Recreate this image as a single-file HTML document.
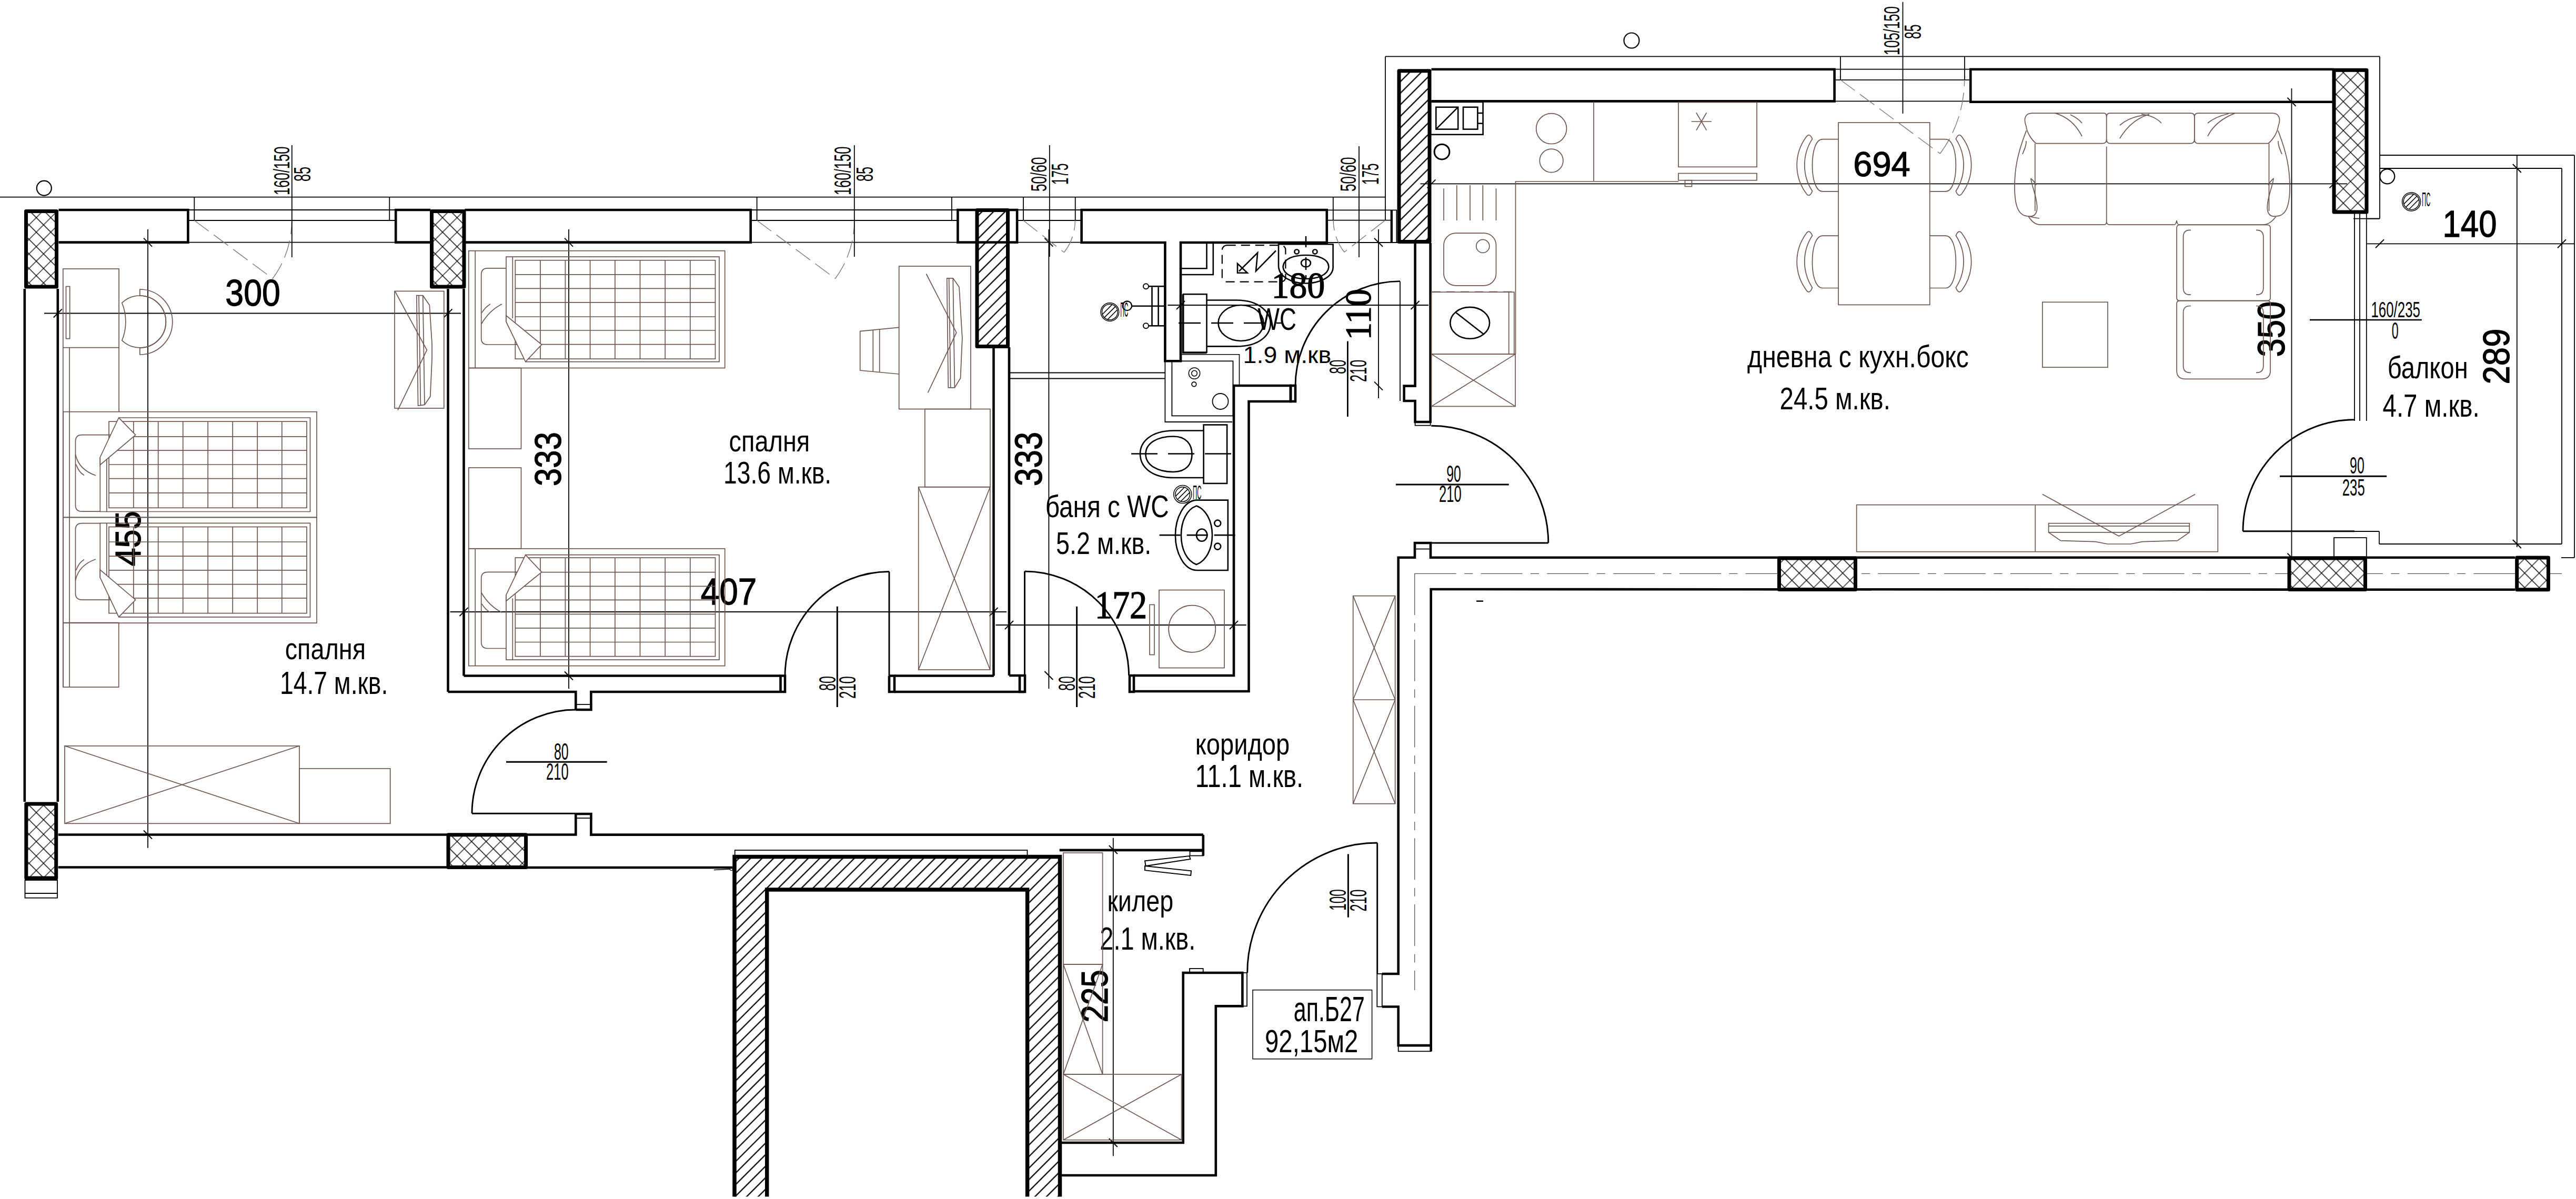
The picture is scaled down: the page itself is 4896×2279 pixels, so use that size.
<!DOCTYPE html>
<html><head><meta charset="utf-8"><style>
html,body{margin:0;padding:0;background:#fff;overflow:hidden}
svg{display:block}
text{font-family:"Liberation Sans",sans-serif}
text[font-family]{font-family:"Liberation Serif",serif}
</style></head><body>
<svg width="4896" height="2279" viewBox="0 0 4896 2279">
<defs>
<pattern id="xh" patternUnits="userSpaceOnUse" width="19.5" height="19.5" patternTransform="rotate(45)">
<path d="M9.75,0 V19.5 M0,9.75 H19.5" stroke="#000" stroke-width="1.25" fill="none"/>
</pattern>
<pattern id="dh" patternUnits="userSpaceOnUse" width="15.5" height="15.5" patternTransform="rotate(45)">
<path d="M7.75,0 V15.5" stroke="#000" stroke-width="2.3" fill="none"/>
</pattern>
</defs>
<rect width="4896" height="2279" fill="#fff"/>
<line x1="0" y1="374.6" x2="2633" y2="374.6" stroke="#000" stroke-width="1.8" />
<line x1="2633" y1="107.4" x2="4523" y2="107.4" stroke="#000" stroke-width="1.8" />
<line x1="2633" y1="107.4" x2="2633" y2="418" stroke="#000" stroke-width="1.8" />
<line x1="4523" y1="107.4" x2="4523" y2="415.6" stroke="#000" stroke-width="1.8" />
<line x1="4473" y1="415.6" x2="4523" y2="415.6" stroke="#000" stroke-width="1.8" />
<line x1="4523" y1="295" x2="4893" y2="295" stroke="#000" stroke-width="1.8" />
<line x1="4893" y1="295" x2="4893" y2="1060" stroke="#000" stroke-width="1.8" />
<line x1="4868" y1="1060" x2="4893" y2="1060" stroke="#000" stroke-width="1.8" />
<line x1="4523" y1="320" x2="4869" y2="320" stroke="#000" stroke-width="1.8" />
<line x1="4869" y1="320" x2="4869" y2="1034" stroke="#000" stroke-width="1.8" />
<line x1="4522" y1="1034" x2="4869" y2="1034" stroke="#000" stroke-width="1.8" />
<line x1="4522" y1="1010" x2="4522" y2="1034" stroke="#000" stroke-width="1.8" />
<line x1="4475" y1="1010" x2="4522" y2="1010" stroke="#000" stroke-width="1.8" />
<rect x="49.5" y="401.6" width="58.0" height="143.39999999999998" fill="#fff" stroke="none" stroke-width="0" />
<rect x="49.5" y="401.6" width="58.0" height="143.39999999999998" fill="url(#xh)" stroke="none" stroke-width="0" />
<rect x="49.5" y="401.6" width="58.0" height="143.39999999999998" fill="none" stroke="#000" stroke-width="7" stroke-linejoin="round"/>
<rect x="820.5" y="401.6" width="61.5" height="143.39999999999998" fill="#fff" stroke="none" stroke-width="0" />
<rect x="820.5" y="401.6" width="61.5" height="143.39999999999998" fill="url(#xh)" stroke="none" stroke-width="0" />
<rect x="820.5" y="401.6" width="61.5" height="143.39999999999998" fill="none" stroke="#000" stroke-width="7" stroke-linejoin="round"/>
<polyline points="111.5,399 357.4,399 357.4,460.6 111.5,460.6" fill="none" stroke="#000" stroke-width="4.6" stroke-linejoin="miter" />
<polyline points="818.3,399 752.2,399 752.2,460.6 818.3,460.6" fill="none" stroke="#000" stroke-width="4.6" stroke-linejoin="miter" />
<polyline points="883.4,399 1426.7,399 1426.7,460.6 883.4,460.6" fill="none" stroke="#000" stroke-width="4.6" stroke-linejoin="miter" />
<rect x="1820.4" y="399" width="112.69999999999982" height="61.60000000000002" fill="none" stroke="#000" stroke-width="4.6" />
<rect x="1857" y="399.5" width="58.5" height="259.0" fill="url(#dh)" stroke="none" stroke-width="0" />
<rect x="1857" y="399.5" width="58.5" height="259.0" fill="none" stroke="#000" stroke-width="7" stroke-linejoin="round"/>
<polygon points="2055.6,399 2521.8,399 2521.8,461 2244,461 2244,686.3 2214.4,686.3 2214.4,461 2055.6,461" fill="none" stroke="#000" stroke-width="4.6" stroke-linejoin="miter" />
<rect x="2643.6" y="399.4" width="10.800000000000182" height="61.60000000000002" fill="none" stroke="#000" stroke-width="1.8" />
<line x1="2645.5" y1="399.4" x2="2645.5" y2="461" stroke="#000" stroke-width="3" />
<line x1="357.4" y1="399" x2="752.2" y2="399" stroke="#000" stroke-width="1.8" />
<line x1="357.4" y1="419" x2="752.2" y2="419" stroke="#000" stroke-width="1.8" />
<line x1="357.4" y1="460.6" x2="752.2" y2="460.6" stroke="#000" stroke-width="1.8" />
<line x1="369.3" y1="374.6" x2="369.3" y2="419" stroke="#000" stroke-width="1.8" />
<line x1="740.3" y1="374.6" x2="740.3" y2="419" stroke="#000" stroke-width="1.8" />
<line x1="1426.7" y1="399" x2="1820.4" y2="399" stroke="#000" stroke-width="1.8" />
<line x1="1426.7" y1="419" x2="1820.4" y2="419" stroke="#000" stroke-width="1.8" />
<line x1="1426.7" y1="460.6" x2="1820.4" y2="460.6" stroke="#000" stroke-width="1.8" />
<line x1="1438.6" y1="374.6" x2="1438.6" y2="419" stroke="#000" stroke-width="1.8" />
<line x1="1808.9" y1="374.6" x2="1808.9" y2="419" stroke="#000" stroke-width="1.8" />
<line x1="1933.1" y1="399" x2="2055.6" y2="399" stroke="#000" stroke-width="1.8" />
<line x1="1933.1" y1="419" x2="2055.6" y2="419" stroke="#000" stroke-width="1.8" />
<line x1="1933.1" y1="460.6" x2="2055.6" y2="460.6" stroke="#000" stroke-width="1.8" />
<line x1="1945" y1="374.6" x2="1945" y2="419" stroke="#000" stroke-width="1.8" />
<line x1="2043.7" y1="374.6" x2="2043.7" y2="419" stroke="#000" stroke-width="1.8" />
<line x1="2522" y1="399.4" x2="2643" y2="399.4" stroke="#000" stroke-width="1.8" />
<line x1="2522" y1="418.7" x2="2643" y2="418.7" stroke="#000" stroke-width="1.8" />
<line x1="2522" y1="461" x2="2656" y2="461" stroke="#000" stroke-width="1.8" />
<line x1="2533.8" y1="374.6" x2="2533.8" y2="418.7" stroke="#000" stroke-width="1.8" />
<line x1="46.8" y1="549" x2="46.8" y2="1524" stroke="#000" stroke-width="4.6" />
<line x1="109.8" y1="549" x2="109.8" y2="1524" stroke="#000" stroke-width="4.6" />
<rect x="49.8" y="1528" width="56.900000000000006" height="141" fill="#fff" stroke="none" stroke-width="0" />
<rect x="49.8" y="1528" width="56.900000000000006" height="141" fill="url(#xh)" stroke="none" stroke-width="0" />
<rect x="49.8" y="1528" width="56.900000000000006" height="141" fill="none" stroke="#000" stroke-width="7" stroke-linejoin="round"/>
<rect x="47.5" y="1673" width="61.5" height="33.700000000000045" fill="none" stroke="#000" stroke-width="1.8" />
<line x1="47.5" y1="1698" x2="109" y2="1698" stroke="#000" stroke-width="1.8" />
<line x1="110.7" y1="1586.5" x2="849.5" y2="1586.5" stroke="#000" stroke-width="4.6" />
<line x1="110.7" y1="1648.5" x2="849.5" y2="1648.5" stroke="#000" stroke-width="4.6" />
<rect x="852" y="1586.7" width="147.60000000000002" height="61.899999999999864" fill="#fff" stroke="none" stroke-width="0" />
<rect x="852" y="1586.7" width="147.60000000000002" height="61.899999999999864" fill="url(#xh)" stroke="none" stroke-width="0" />
<rect x="852" y="1586.7" width="147.60000000000002" height="61.899999999999864" fill="none" stroke="#000" stroke-width="7" stroke-linejoin="round"/>
<polyline points="1000.4,1586.5 1094.3,1586.5 1094.3,1547" fill="none" stroke="#000" stroke-width="4.6" stroke-linejoin="miter" />
<line x1="1000.4" y1="1649" x2="1392.5" y2="1649" stroke="#000" stroke-width="4.6" />
<polyline points="1094.3,1547 1123.4,1547 1123.4,1586.6 2287,1586.6" fill="none" stroke="#000" stroke-width="4.6" stroke-linejoin="miter" />
<line x1="1094.3" y1="1555" x2="1123.4" y2="1555" stroke="#000" stroke-width="1.8" />
<line x1="851.5" y1="549" x2="851.5" y2="1315" stroke="#000" stroke-width="4.6" />
<line x1="881.5" y1="549" x2="881.5" y2="1284.5" stroke="#000" stroke-width="4.6" />
<line x1="881.5" y1="1284.5" x2="1483.5" y2="1284.5" stroke="#000" stroke-width="4.6" />
<polyline points="851.5,1315 1094.3,1315 1094.3,1349" fill="none" stroke="#000" stroke-width="4.6" stroke-linejoin="miter" />
<polyline points="1094.3,1349 1123.4,1349 1123.4,1315 1492,1315 1492,1284.5 1483.5,1284.5 1483.5,1315" fill="none" stroke="#000" stroke-width="4.6" stroke-linejoin="miter" />
<line x1="1094.3" y1="1339" x2="1123.4" y2="1339" stroke="#000" stroke-width="1.8" />
<polyline points="1690,1284.5 1700,1284.5 1700,1315 1690,1315 1690,1284.5" fill="none" stroke="#000" stroke-width="4.6" stroke-linejoin="miter" />
<line x1="1700" y1="1284.5" x2="1889" y2="1284.5" stroke="#000" stroke-width="4.6" />
<line x1="1700" y1="1315" x2="1948" y2="1315" stroke="#000" stroke-width="4.6" />
<line x1="1888.5" y1="660" x2="1888.5" y2="1284.5" stroke="#000" stroke-width="4.6" />
<line x1="1918" y1="660" x2="1918" y2="1284" stroke="#000" stroke-width="4.6" />
<polyline points="1918,1284 1948,1284 1948,1315 1938,1315 1938,1284" fill="none" stroke="#000" stroke-width="4.6" stroke-linejoin="miter" />
<line x1="1919.5" y1="708.5" x2="2214.5" y2="708.5" stroke="#000" stroke-width="1.8" />
<line x1="1919.5" y1="719.5" x2="2214.5" y2="719.5" stroke="#000" stroke-width="1.8" />
<polyline points="2147,1284 2155,1284 2155,1315 2147,1315 2147,1284" fill="none" stroke="#000" stroke-width="4.6" stroke-linejoin="miter" />
<polyline points="2155,1284 2345,1284 2345,733 2453,733 2453,763 2373.5,763 2373.5,1314 2155,1314" fill="none" stroke="#000" stroke-width="4.6" stroke-linejoin="miter" />
<rect x="2453" y="733" width="9" height="30" fill="none" stroke="#000" stroke-width="4.6" />
<polyline points="2214.4,686.3 2214.4,802 2342,802" fill="none" stroke="#000" stroke-width="1.8" stroke-linejoin="miter" />
<rect x="2227.4" y="686.3" width="116.09999999999991" height="104.10000000000002" fill="none" stroke="#000" stroke-width="1.8" />
<rect x="2659" y="134.8" width="58" height="324.7" fill="url(#dh)" stroke="none" stroke-width="0" />
<rect x="2659" y="134.8" width="58" height="324.7" fill="none" stroke="#000" stroke-width="7" stroke-linejoin="round"/>
<polyline points="2689.6,462 2689.6,733.6 2668.6,733.6 2668.6,762 2689.6,762 2689.6,802 2718.6,802 2718.6,462" fill="none" stroke="#000" stroke-width="4.6" stroke-linejoin="miter" />
<rect x="2689.6" y="802" width="29.0" height="6.7000000000000455" fill="none" stroke="#000" stroke-width="1.8" />
<line x1="2661" y1="535" x2="2661" y2="762" stroke="#000" stroke-width="1.8" />
<polyline points="2720.5,131.7 3486.6,131.7 3486.6,192.4 2720.5,192.4" fill="none" stroke="#000" stroke-width="4.6" stroke-linejoin="miter" />
<polyline points="4435.5,131.7 3745.3,131.7 3745.3,193.8 4435.5,193.8" fill="none" stroke="#000" stroke-width="4.6" stroke-linejoin="miter" />
<rect x="4436" y="133.3" width="62" height="269.7" fill="#fff" stroke="none" stroke-width="0" />
<rect x="4436" y="133.3" width="62" height="269.7" fill="url(#xh)" stroke="none" stroke-width="0" />
<rect x="4436" y="133.3" width="62" height="269.7" fill="none" stroke="#000" stroke-width="7" stroke-linejoin="round"/>
<line x1="3486.6" y1="131.7" x2="3745.3" y2="131.7" stroke="#000" stroke-width="1.8" />
<line x1="3486.6" y1="151.8" x2="3745.3" y2="151.8" stroke="#000" stroke-width="1.8" />
<line x1="3486.6" y1="192.4" x2="3745.3" y2="192.4" stroke="#000" stroke-width="1.8" />
<line x1="3498" y1="107.4" x2="3498" y2="151.8" stroke="#000" stroke-width="1.8" />
<line x1="3734" y1="107.4" x2="3734" y2="151.8" stroke="#000" stroke-width="1.8" />
<line x1="4475" y1="405" x2="4475" y2="800" stroke="#000" stroke-width="1.8" />
<line x1="4485" y1="405" x2="4485" y2="800" stroke="#000" stroke-width="1.8" />
<line x1="4497.8" y1="405" x2="4497.8" y2="800" stroke="#000" stroke-width="1.8" />
<line x1="4499" y1="415.6" x2="4522" y2="415.6" stroke="#000" stroke-width="1.8" />
<rect x="4436" y="1022" width="61.80000000000018" height="36.59999999999991" fill="none" stroke="#000" stroke-width="1.8" />
<polyline points="2626.8,1851 2657.7,1851 2657.7,1059.8 2689,1059.8 2689,1032 2719,1032 2719,1059.8 4780,1059.8" fill="none" stroke="#000" stroke-width="4.6" stroke-linejoin="miter" />
<line x1="2689" y1="1043.5" x2="2719" y2="1043.5" stroke="#000" stroke-width="1.8" />
<polyline points="2719.7,1998.3 2719.7,1120 4780,1120.8" fill="none" stroke="#000" stroke-width="4.6" stroke-linejoin="miter" />
<line x1="2688.7" y1="1090" x2="2688.7" y2="1882" stroke="#555" stroke-width="1.3" stroke-dasharray="79,15.5,16,15.3"/>
<line x1="2688.7" y1="1090.4" x2="4869" y2="1090.4" stroke="#555" stroke-width="1.3" stroke-dasharray="79,15.5,16,15.3"/>
<line x1="2013.7" y1="1615.9" x2="2286.8" y2="1615.9" stroke="#000" stroke-width="4.6" />
<line x1="2286.8" y1="1586.8" x2="2286.8" y2="1626.5" stroke="#000" stroke-width="4.6" />
<rect x="2261.5" y="1618.3" width="25.300000000000182" height="8.200000000000045" fill="none" stroke="#000" stroke-width="1.8" />
<polygon points="2176,1636.3 2260.7,1627 2262.4,1633 2177.6,1646" fill="none" stroke="#000" stroke-width="2" stroke-linejoin="miter" />
<polygon points="2176,1646 2264,1655.3 2263.2,1664 2176,1654.2" fill="none" stroke="#000" stroke-width="2" stroke-linejoin="miter" />
<line x1="1357" y1="1653.5" x2="1388" y2="1652" stroke="#000" stroke-width="1.3" />
<circle cx="1390" cy="1652" r="2.5" fill="none" stroke="#000" stroke-width="1.2" />
<path d="M1396,2274.5 V1628.5 H2014.5 V2274.5 H1952.6 V1691 H1457.7 V2274.5 Z" fill="url(#dh)" stroke="none"/>
<polyline points="1396,2274.5 1396,1628.5 2014.5,1628.5 2014.5,2274.5" fill="none" stroke="#000" stroke-width="7.5" stroke-linejoin="miter" />
<polyline points="1457.7,2274.5 1457.7,1691 1952.6,1691 1952.6,2274.5" fill="none" stroke="#000" stroke-width="7.5" stroke-linejoin="miter" />
<rect x="1396.7" y="1616" width="555.8" height="11.5" fill="none" stroke="#000" stroke-width="1.8" />
<polyline points="2015.8,2172 2248.7,2172 2248.7,1849 2361.4,1849 2361.4,1912.4 2310.8,1912.4 2310.8,2234 2015.8,2234" fill="none" stroke="#000" stroke-width="4.6" stroke-linejoin="miter" />
<rect x="2361.4" y="1849" width="8.599999999999909" height="63.40000000000009" fill="none" stroke="#000" stroke-width="1.8" />
<rect x="2261" y="1841" width="25.699999999999818" height="8" fill="none" stroke="#000" stroke-width="1.8" />
<line x1="2617.7" y1="1602.3" x2="2617.7" y2="1851" stroke="#000" stroke-width="2.9" />
<rect x="2617.3" y="1851" width="9.5" height="62.5" fill="none" stroke="#000" stroke-width="1.8" />
<polyline points="2626.8,1913.5 2657.7,1913.5 2657.7,1987.1 2719.7,1987.1" fill="none" stroke="#000" stroke-width="4.6" stroke-linejoin="miter" />
<rect x="2657.7" y="1987.1" width="62.0" height="11.200000000000045" fill="none" stroke="#000" stroke-width="1.8" />
<rect x="3381.5" y="1061" width="145.0" height="59.5" fill="#fff" stroke="none" stroke-width="0" />
<rect x="3381.5" y="1061" width="145.0" height="59.5" fill="url(#xh)" stroke="none" stroke-width="0" />
<rect x="3381.5" y="1061" width="145.0" height="59.5" fill="none" stroke="#000" stroke-width="7" stroke-linejoin="round"/>
<rect x="4351" y="1061" width="144.5" height="59.5" fill="#fff" stroke="none" stroke-width="0" />
<rect x="4351" y="1061" width="144.5" height="59.5" fill="url(#xh)" stroke="none" stroke-width="0" />
<rect x="4351" y="1061" width="144.5" height="59.5" fill="none" stroke="#000" stroke-width="7" stroke-linejoin="round"/>
<rect x="4783.7" y="1060" width="59.69999999999982" height="60.799999999999955" fill="#fff" stroke="none" stroke-width="0" />
<rect x="4783.7" y="1060" width="59.69999999999982" height="60.799999999999955" fill="url(#xh)" stroke="none" stroke-width="0" />
<rect x="4783.7" y="1060" width="59.69999999999982" height="60.799999999999955" fill="none" stroke="#000" stroke-width="7" stroke-linejoin="round"/>
<path d="M1094.3,1349 A197.3,197.3 0 0 0 897,1546.3" fill="none" stroke="#000" stroke-width="2.9" />
<line x1="897" y1="1546.3" x2="1094.3" y2="1546.3" stroke="#000" stroke-width="2.9" />
<path d="M1690,1086.5 A198,198 0 0 0 1492,1284.5" fill="none" stroke="#000" stroke-width="2.9" />
<line x1="1690" y1="1086.5" x2="1690" y2="1284.5" stroke="#000" stroke-width="2.9" />
<path d="M1947.5,1086 A198,198 0 0 1 2145.5,1284" fill="none" stroke="#000" stroke-width="2.9" />
<line x1="1947.5" y1="1086" x2="1947.5" y2="1284" stroke="#000" stroke-width="2.9" />
<path d="M2661,534.6 A199,199 0 0 0 2462,733.6" fill="none" stroke="#000" stroke-width="2.9" />
<path d="M2720.3,809.3 A222.5,222.5 0 0 1 2942.8,1031.8" fill="none" stroke="#000" stroke-width="2.9" />
<line x1="2720.3" y1="1032" x2="2942.8" y2="1032" stroke="#000" stroke-width="2.9" />
<path d="M4475,797.8 A212,212 0 0 0 4263,1009.8" fill="none" stroke="#000" stroke-width="2.9" />
<line x1="4263" y1="1009.8" x2="4475" y2="1009.8" stroke="#000" stroke-width="2.9" />
<path d="M2617.7,1602 A247,247 0 0 0 2370.7,1849" fill="none" stroke="#000" stroke-width="2.9" />
<line x1="369.3" y1="419" x2="518.2" y2="529.5" stroke="#7a7a7a" stroke-width="1.4" stroke-dasharray="34,12"/>
<path d="M518.2,529.5 A185.3,185.3 0 0 0 554.6,419" fill="none" stroke="#7a7a7a" stroke-width="1.4" stroke-dasharray="34,12"/>
<line x1="1438.6" y1="419" x2="1587.5" y2="529.5" stroke="#7a7a7a" stroke-width="1.4" stroke-dasharray="34,12"/>
<path d="M1587.5,529.5 A185.3,185.3 0 0 0 1623.9,419" fill="none" stroke="#7a7a7a" stroke-width="1.4" stroke-dasharray="34,12"/>
<line x1="1945" y1="419" x2="2022.5" y2="479.7" stroke="#7a7a7a" stroke-width="1.4" stroke-dasharray="34,12"/>
<path d="M2022.5,479.7 A98.4,98.4 0 0 0 2043.4,419" fill="none" stroke="#7a7a7a" stroke-width="1.4" stroke-dasharray="34,12"/>
<line x1="2632.7" y1="418.7" x2="2555" y2="479.3" stroke="#7a7a7a" stroke-width="1.4" stroke-dasharray="34,12"/>
<path d="M2555,479.3 A98.5,98.5 0 0 1 2534.2,418.7" fill="none" stroke="#7a7a7a" stroke-width="1.4" stroke-dasharray="34,12"/>
<line x1="3498" y1="151.8" x2="3687.4" y2="292" stroke="#7a7a7a" stroke-width="1.4" stroke-dasharray="34,12"/>
<path d="M3687.4,292 A235.6,235.6 0 0 0 3733.6,151.8" fill="none" stroke="#7a7a7a" stroke-width="1.4" stroke-dasharray="34,12"/>
<line x1="84" y1="595.5" x2="876" y2="595.5" stroke="#000" stroke-width="1.8" />
<line x1="101.8" y1="603.5" x2="117.8" y2="587.5" stroke="#000" stroke-width="2" />
<line x1="843.5" y1="603.5" x2="859.5" y2="587.5" stroke="#000" stroke-width="2" />
<line x1="281" y1="436" x2="281" y2="1611.7" stroke="#000" stroke-width="1.8" />
<line x1="273" y1="452.6" x2="289" y2="468.6" stroke="#000" stroke-width="2" />
<line x1="273" y1="1578.5" x2="289" y2="1594.5" stroke="#000" stroke-width="2" />
<line x1="1081" y1="436" x2="1081" y2="1309" stroke="#000" stroke-width="1.8" />
<line x1="1073" y1="452.6" x2="1089" y2="468.6" stroke="#000" stroke-width="2" />
<line x1="1073" y1="1276.5" x2="1089" y2="1292.5" stroke="#000" stroke-width="2" />
<line x1="855.5" y1="1163" x2="1913" y2="1163" stroke="#000" stroke-width="1.8" />
<line x1="873.5" y1="1171" x2="889.5" y2="1155" stroke="#000" stroke-width="2" />
<line x1="1880.5" y1="1171" x2="1896.5" y2="1155" stroke="#000" stroke-width="2" />
<line x1="1993.4" y1="436" x2="1993.4" y2="1309" stroke="#000" stroke-width="1.8" />
<line x1="1985.4" y1="452.6" x2="2001.4" y2="468.6" stroke="#000" stroke-width="2" />
<line x1="1985.4" y1="1276" x2="2001.4" y2="1292" stroke="#000" stroke-width="2" />
<line x1="1892.5" y1="1188" x2="2368.7" y2="1188" stroke="#000" stroke-width="1.8" />
<line x1="1910" y1="1196" x2="1926" y2="1180" stroke="#000" stroke-width="2" />
<line x1="2337" y1="1196" x2="2353" y2="1180" stroke="#000" stroke-width="2" />
<line x1="2219.4" y1="580" x2="2715" y2="580" stroke="#000" stroke-width="1.8" />
<line x1="2236" y1="588" x2="2252" y2="572" stroke="#000" stroke-width="2" />
<line x1="2681.6" y1="588" x2="2697.6" y2="572" stroke="#000" stroke-width="2" />
<line x1="2620" y1="436" x2="2620" y2="757" stroke="#000" stroke-width="1.8" />
<line x1="2612" y1="452.7" x2="2628" y2="468.7" stroke="#000" stroke-width="2" />
<line x1="2612" y1="725.6" x2="2628" y2="741.6" stroke="#000" stroke-width="2" />
<line x1="2699.5" y1="349.4" x2="4461" y2="349.4" stroke="#000" stroke-width="1.8" />
<line x1="2712.5" y1="357.4" x2="2728.5" y2="341.4" stroke="#000" stroke-width="2" />
<line x1="4427.5" y1="357.4" x2="4443.5" y2="341.4" stroke="#000" stroke-width="2" />
<line x1="4355.5" y1="168" x2="4355.5" y2="1060" stroke="#000" stroke-width="1.8" />
<line x1="4347.5" y1="185.8" x2="4363.5" y2="201.8" stroke="#000" stroke-width="2" />
<line x1="4347.5" y1="1051.8" x2="4363.5" y2="1067.8" stroke="#000" stroke-width="2" />
<line x1="4498.6" y1="463.3" x2="4893" y2="463.3" stroke="#000" stroke-width="1.8" />
<line x1="4515" y1="471.3" x2="4531" y2="455.3" stroke="#000" stroke-width="2" />
<line x1="4861" y1="471.3" x2="4877" y2="455.3" stroke="#000" stroke-width="2" />
<line x1="4783.8" y1="295" x2="4783.8" y2="1040" stroke="#000" stroke-width="1.8" />
<line x1="4775.8" y1="312" x2="4791.8" y2="328" stroke="#000" stroke-width="2" />
<line x1="4775.8" y1="1026" x2="4791.8" y2="1042" stroke="#000" stroke-width="2" />
<line x1="2115.8" y1="1592.8" x2="2115.8" y2="2197.2" stroke="#000" stroke-width="1.8" />
<line x1="2107.8" y1="1607" x2="2123.8" y2="1623" stroke="#000" stroke-width="2" />
<line x1="2107.8" y1="2164" x2="2123.8" y2="2180" stroke="#000" stroke-width="2" />
<line x1="962" y1="1448.3" x2="1153.7" y2="1448.3" stroke="#000" stroke-width="3" />
<line x1="1591.3" y1="1152.8" x2="1591.3" y2="1344" stroke="#000" stroke-width="3" />
<line x1="2046.6" y1="1152.8" x2="2046.6" y2="1344" stroke="#000" stroke-width="3" />
<line x1="2561.4" y1="648.5" x2="2561.4" y2="792" stroke="#000" stroke-width="2.8" />
<line x1="2652.9" y1="921" x2="2867.8" y2="921" stroke="#000" stroke-width="3" />
<line x1="4333" y1="905.2" x2="4536.2" y2="905.2" stroke="#000" stroke-width="3" />
<line x1="4390" y1="608" x2="4602.9" y2="608" stroke="#000" stroke-width="2.6" />
<line x1="2562.4" y1="1623.4" x2="2562.4" y2="1743.7" stroke="#000" stroke-width="3" />
<line x1="554.8" y1="276" x2="554.8" y2="489" stroke="#000" stroke-width="1.8" />
<line x1="1623.8" y1="276" x2="1623.8" y2="488" stroke="#000" stroke-width="1.8" />
<line x1="1994.8" y1="276" x2="1994.8" y2="488" stroke="#000" stroke-width="1.8" />
<line x1="2583" y1="278" x2="2583" y2="489" stroke="#000" stroke-width="1.8" />
<line x1="3616.5" y1="3.7" x2="3616.5" y2="215.8" stroke="#000" stroke-width="1.8" />
<circle cx="83.8" cy="357.6" r="14" fill="none" stroke="#000" stroke-width="2.2" />
<circle cx="3101" cy="77" r="14.5" fill="none" stroke="#000" stroke-width="2.2" />
<circle cx="4537.3" cy="335.3" r="14" fill="none" stroke="#000" stroke-width="2.2" />
<circle cx="2740.6" cy="288.7" r="14" fill="none" stroke="#000" stroke-width="2.2" />
<circle cx="4583.1" cy="383.4" r="17.5" fill="none" stroke="#000" stroke-width="1.5" />
<circle cx="4583.1" cy="383.4" r="15" fill="none" stroke="#000" stroke-width="1.5" />
<line x1="4568.769421012048" y1="387.831084051341" x2="4587.531084051341" y2="369.0694210120473" stroke="#000" stroke-width="1.6" />
<line x1="4572.493398282202" y1="394.00660171779816" x2="4593.706601717799" y2="372.7933982822018" stroke="#000" stroke-width="1.6" />
<line x1="4578.66891594866" y1="397.73057898795264" x2="4597.430578987953" y2="378.96891594865895" stroke="#000" stroke-width="1.6" />
<rect x="2381" y="1881.7" width="226.5999999999999" height="131.0999999999999" fill="none" stroke="#000" stroke-width="1.5" />
<text transform="translate(428.30,581.40) scale(0.06265,0.07006)" font-size="1000" fill="#000" stroke="#000" stroke-width="18.1" >300</text>
<text transform="translate(267.02,1076.60) rotate(-90) scale(0.06331,0.06848)" font-size="1000" fill="#000" stroke="#000" stroke-width="18.2" >455</text>
<text transform="translate(1066.10,923.90) rotate(-90) scale(0.06163,0.07006)" font-size="1000" fill="#000" stroke="#000" stroke-width="18.2" >333</text>
<text transform="translate(1385.50,858.43) scale(0.04696,0.05657)" font-size="1000" fill="#000" >спалня</text>
<text transform="translate(1375.00,918.51) scale(0.04626,0.05932)" font-size="1000" fill="#000" >13.6 м.кв.</text>
<text transform="translate(1331.70,1149.40) scale(0.06385,0.06963)" font-size="1000" fill="#000" stroke="#000" stroke-width="18.0" >407</text>
<text transform="translate(541.70,1252.53) scale(0.04684,0.05730)" font-size="1000" fill="#000" >спалня</text>
<text transform="translate(531.90,1318.70) scale(0.04630,0.06061)" font-size="1000" fill="#000" >14.7 м.кв.</text>
<text transform="translate(1980.28,923.90) rotate(-90) scale(0.06169,0.07189)" font-size="1000" fill="#000" stroke="#000" stroke-width="18.0" >333</text>
<text transform="translate(1986.70,983.11) scale(0.04777,0.05882)" font-size="1000" fill="#000" >баня с WC</text>
<text transform="translate(2007.10,1053.01) scale(0.04668,0.05890)" font-size="1000" fill="#000" >5.2 м.кв.</text>
<text transform="translate(2080.75,1175.05) scale(0.06627,0.07296)" font-size="1000" fill="#000" stroke="#000" stroke-width="18.7"  font-family="Liberation Serif">172</text>
<text transform="translate(2416.45,566.04) scale(0.06793,0.07067)" font-size="1000" fill="#000" stroke="#000" stroke-width="18.8"  font-family="Liberation Serif">180</text>
<text transform="translate(2604.54,646.35) rotate(-90) scale(0.06651,0.07052)" font-size="1000" fill="#000" stroke="#000" stroke-width="19.0"  font-family="Liberation Serif">110</text>
<text transform="translate(3522.20,334.72) scale(0.06511,0.06751)" font-size="1000" fill="#000" stroke="#000" stroke-width="18.1" >694</text>
<text transform="translate(3321.10,698.48) scale(0.04814,0.05877)" font-size="1000" fill="#000" >дневна с кухн.бокс</text>
<text transform="translate(3382.50,778.31) scale(0.04743,0.05904)" font-size="1000" fill="#000" >24.5 м.кв.</text>
<text transform="translate(4341.68,678.40) rotate(-90) scale(0.06343,0.07203)" font-size="1000" fill="#000" stroke="#000" stroke-width="17.7" >350</text>
<text transform="translate(4642.60,449.70) scale(0.06163,0.06963)" font-size="1000" fill="#000" stroke="#000" stroke-width="18.3" >140</text>
<text transform="translate(4768.70,730.40) rotate(-90) scale(0.06343,0.07034)" font-size="1000" fill="#000" stroke="#000" stroke-width="17.9" >289</text>
<text transform="translate(4506.50,602.57) scale(0.02586,0.04327)" font-size="1000" fill="#000" >160/235</text>
<text transform="translate(4545.80,644.16) scale(0.02320,0.04421)" font-size="1000" fill="#000" >0</text>
<text transform="translate(4537.80,719.21) scale(0.04709,0.05895)" font-size="1000" fill="#000" >балкон</text>
<text transform="translate(4528.50,792.00) scale(0.04745,0.06134)" font-size="1000" fill="#000" >4.7 м.кв.</text>
<text transform="translate(4466.10,900.26) scale(0.02491,0.04435)" font-size="1000" fill="#000" >90</text>
<text transform="translate(4451.80,942.06) scale(0.02572,0.04435)" font-size="1000" fill="#000" >235</text>
<text transform="translate(2749.20,916.16) scale(0.02482,0.04449)" font-size="1000" fill="#000" >90</text>
<text transform="translate(2735.00,954.35) scale(0.02560,0.04477)" font-size="1000" fill="#000" >210</text>
<text transform="translate(1052.90,1444.16) scale(0.02500,0.04435)" font-size="1000" fill="#000" >80</text>
<text transform="translate(1038.00,1482.35) scale(0.02560,0.04477)" font-size="1000" fill="#000" >210</text>
<text transform="translate(2271.70,1433.67) scale(0.04705,0.05737)" font-size="1000" fill="#000" >коридор</text>
<text transform="translate(2271.70,1496.00) scale(0.04709,0.06061)" font-size="1000" fill="#000" >11.1 м.кв.</text>
<text transform="translate(2104.40,1731.74) scale(0.04673,0.05751)" font-size="1000" fill="#000" >килер</text>
<text transform="translate(2090.30,1804.90) scale(0.04693,0.06017)" font-size="1000" fill="#000" >2.1 м.кв.</text>
<text transform="translate(2105.00,1943.40) rotate(-90) scale(0.05995,0.06977)" font-size="1000" fill="#000" stroke="#000" stroke-width="18.5" >225</text>
<text transform="translate(2458.80,1941.44) scale(0.04294,0.06638)" font-size="1000" fill="#000" >ап.Б27</text>
<text transform="translate(2404.00,1999.63) scale(0.04738,0.06150)" font-size="1000" fill="#000" >92,15м2</text>
<text transform="translate(549.67,371.10) rotate(-90) scale(0.02564,0.04340)" font-size="1000" fill="#000" >160/150</text>
<text transform="translate(590.06,345.10) rotate(-90) scale(0.02536,0.04435)" font-size="1000" fill="#000" >85</text>
<text transform="translate(1617.26,371.10) rotate(-90) scale(0.02564,0.04354)" font-size="1000" fill="#000" >160/150</text>
<text transform="translate(1659.36,345.10) rotate(-90) scale(0.02536,0.04421)" font-size="1000" fill="#000" >85</text>
<text transform="translate(1988.57,364.10) rotate(-90) scale(0.02622,0.04327)" font-size="1000" fill="#000" >50/60</text>
<text transform="translate(2030.45,350.90) rotate(-90) scale(0.02422,0.04484)" font-size="1000" fill="#000" >175</text>
<text transform="translate(2577.37,364.10) rotate(-90) scale(0.02622,0.04299)" font-size="1000" fill="#000" >50/60</text>
<text transform="translate(2619.65,350.90) rotate(-90) scale(0.02422,0.04513)" font-size="1000" fill="#000" >175</text>
<text transform="translate(3610.47,105.10) rotate(-90) scale(0.02575,0.04272)" font-size="1000" fill="#000" >105/150</text>
<text transform="translate(3651.16,74.10) rotate(-90) scale(0.02482,0.04379)" font-size="1000" fill="#000" >85</text>
<text transform="translate(1588.35,1312.90) rotate(-90) scale(0.02491,0.04463)" font-size="1000" fill="#000" >80</text>
<text transform="translate(1626.45,1327.90) rotate(-90) scale(0.02560,0.04520)" font-size="1000" fill="#000" >210</text>
<text transform="translate(2043.45,1312.90) rotate(-90) scale(0.02491,0.04477)" font-size="1000" fill="#000" >80</text>
<text transform="translate(2081.45,1327.90) rotate(-90) scale(0.02560,0.04506)" font-size="1000" fill="#000" >210</text>
<text transform="translate(2558.26,710.80) rotate(-90) scale(0.02437,0.04435)" font-size="1000" fill="#000" >80</text>
<text transform="translate(2596.55,726.00) rotate(-90) scale(0.02536,0.04492)" font-size="1000" fill="#000" >210</text>
<text transform="translate(2558.16,1730.80) rotate(-90) scale(0.02428,0.04449)" font-size="1000" fill="#000" >100</text>
<text transform="translate(2597.36,1732.60) rotate(-90) scale(0.02536,0.04421)" font-size="1000" fill="#000" >210</text>
<text transform="translate(2390.20,627.11) scale(0.04418,0.05918)" font-size="1000" fill="#000" >WC</text>
<text transform="translate(2362.60,689.76) scale(0.04653,0.04364)" font-size="1000" fill="#000" >1.9 м.кв</text>
<text transform="translate(2129.30,601.92) scale(0.01048,0.03799)" font-size="1000" fill="#000" >ПС</text>
<text transform="translate(2267.00,948.83) scale(0.01138,0.03701)" font-size="1000" fill="#000" >ПС</text>
<text transform="translate(4603.10,392.23) scale(0.01124,0.03658)" font-size="1000" fill="#000" >ПС</text>
<rect x="119.8" y="511" width="106.3" height="149.70000000000005" fill="none" stroke="#6f5651" stroke-width="1.7" />
<rect x="125.5" y="544.5" width="7.099999999999994" height="99.20000000000005" fill="none" stroke="#6f5651" stroke-width="1.7" />
<line x1="132" y1="660.7" x2="132" y2="1306" stroke="#6f5651" stroke-width="1.7" />
<line x1="226.1" y1="660.7" x2="226.1" y2="782.7" stroke="#6f5651" stroke-width="1.7" />
<line x1="119.8" y1="660.7" x2="119.8" y2="1306" stroke="#6f5651" stroke-width="1.7" />
<path d="M265.8,550 V562.2 A49.5,49.5 0 0 1 265.8,661.2 V674 A62,62 0 0 0 265.8,550 Z" fill="none" stroke="#6f5651" stroke-width="1.7" />
<path d="M231.8,575.7 A49.4,49.4 0 1 1 231.8,647.1 A93.5,93.5 0 0 0 231.8,575.7 Z" fill="none" stroke="#6f5651" stroke-width="1.7" />
<g>
<rect x="120" y="782.7" width="482" height="200.69999999999993" fill="none" stroke="#6f5651" stroke-width="1.7" />
<path d="M226,826.7 H156 Q143.4,826.7 143.4,839 V960 Q143.4,972.2 156,972.2 H190.3" fill="none" stroke="#6f5651" stroke-width="1.7" />
<path d="M143.4,863.8 Q150,893 182,903.8" fill="none" stroke="#6f5651" stroke-width="1.7" />
<path d="M144.4,882.6 Q150,898 160,903.4" fill="none" stroke="#6f5651" stroke-width="1.7" />
<polyline points="190.3,869 190.3,972.5 589.5,972.5 589.5,794 225.7,794" fill="none" stroke="#6f5651" stroke-width="1.7" stroke-linejoin="miter" />
<line x1="202.8" y1="872" x2="202.8" y2="972.5" stroke="#6f5651" stroke-width="1.7" />
<rect x="207" y="801.2" width="376" height="164.0999999999999" fill="none" stroke="#6f5651" stroke-width="1.7" />
<line x1="253.8" y1="801.2" x2="253.8" y2="965.3" stroke="#6f5651" stroke-width="1.7" />
<line x1="300.7" y1="801.2" x2="300.7" y2="965.3" stroke="#6f5651" stroke-width="1.7" />
<line x1="347.7" y1="801.2" x2="347.7" y2="965.3" stroke="#6f5651" stroke-width="1.7" />
<line x1="395.2" y1="801.2" x2="395.2" y2="965.3" stroke="#6f5651" stroke-width="1.7" />
<line x1="442.2" y1="801.2" x2="442.2" y2="965.3" stroke="#6f5651" stroke-width="1.7" />
<line x1="489.2" y1="801.2" x2="489.2" y2="965.3" stroke="#6f5651" stroke-width="1.7" />
<line x1="535.8" y1="801.2" x2="535.8" y2="965.3" stroke="#6f5651" stroke-width="1.7" />
<line x1="207" y1="829.9" x2="583" y2="829.9" stroke="#6f5651" stroke-width="1.7" />
<line x1="207" y1="856.1" x2="583" y2="856.1" stroke="#6f5651" stroke-width="1.7" />
<line x1="207" y1="883" x2="583" y2="883" stroke="#6f5651" stroke-width="1.7" />
<line x1="207" y1="909.7" x2="583" y2="909.7" stroke="#6f5651" stroke-width="1.7" />
<line x1="207" y1="936.8" x2="583" y2="936.8" stroke="#6f5651" stroke-width="1.7" />
<polygon points="190.3,869 225.7,794 257.6,826.7 190.3,883.6" fill="#fff" stroke="#6f5651" stroke-width="1.7" stroke-linejoin="miter" />
</g>
<g transform="matrix(1,0,0,-1,0,1966.8)">
<rect x="120" y="782.7" width="482" height="200.69999999999993" fill="none" stroke="#6f5651" stroke-width="1.7" />
<path d="M226,826.7 H156 Q143.4,826.7 143.4,839 V960 Q143.4,972.2 156,972.2 H190.3" fill="none" stroke="#6f5651" stroke-width="1.7" />
<path d="M143.4,863.8 Q150,893 182,903.8" fill="none" stroke="#6f5651" stroke-width="1.7" />
<path d="M144.4,882.6 Q150,898 160,903.4" fill="none" stroke="#6f5651" stroke-width="1.7" />
<polyline points="190.3,869 190.3,972.5 589.5,972.5 589.5,794 225.7,794" fill="none" stroke="#6f5651" stroke-width="1.7" stroke-linejoin="miter" />
<line x1="202.8" y1="872" x2="202.8" y2="972.5" stroke="#6f5651" stroke-width="1.7" />
<rect x="207" y="801.2" width="376" height="164.0999999999999" fill="none" stroke="#6f5651" stroke-width="1.7" />
<line x1="253.8" y1="801.2" x2="253.8" y2="965.3" stroke="#6f5651" stroke-width="1.7" />
<line x1="300.7" y1="801.2" x2="300.7" y2="965.3" stroke="#6f5651" stroke-width="1.7" />
<line x1="347.7" y1="801.2" x2="347.7" y2="965.3" stroke="#6f5651" stroke-width="1.7" />
<line x1="395.2" y1="801.2" x2="395.2" y2="965.3" stroke="#6f5651" stroke-width="1.7" />
<line x1="442.2" y1="801.2" x2="442.2" y2="965.3" stroke="#6f5651" stroke-width="1.7" />
<line x1="489.2" y1="801.2" x2="489.2" y2="965.3" stroke="#6f5651" stroke-width="1.7" />
<line x1="535.8" y1="801.2" x2="535.8" y2="965.3" stroke="#6f5651" stroke-width="1.7" />
<line x1="207" y1="829.9" x2="583" y2="829.9" stroke="#6f5651" stroke-width="1.7" />
<line x1="207" y1="856.1" x2="583" y2="856.1" stroke="#6f5651" stroke-width="1.7" />
<line x1="207" y1="883" x2="583" y2="883" stroke="#6f5651" stroke-width="1.7" />
<line x1="207" y1="909.7" x2="583" y2="909.7" stroke="#6f5651" stroke-width="1.7" />
<line x1="207" y1="936.8" x2="583" y2="936.8" stroke="#6f5651" stroke-width="1.7" />
<polygon points="190.3,869 225.7,794 257.6,826.7 190.3,883.6" fill="#fff" stroke="#6f5651" stroke-width="1.7" stroke-linejoin="miter" />
</g>
<rect x="120" y="1183.6" width="105.69999999999999" height="122.40000000000009" fill="none" stroke="#6f5651" stroke-width="1.7" />
<rect x="750" y="553.4" width="93.79999999999995" height="222.60000000000002" fill="none" stroke="#6f5651" stroke-width="1.7" />
<polyline points="750.6,553.4 811.3,665.3 756,779.6" fill="none" stroke="#6f5651" stroke-width="1.7" stroke-linejoin="miter" />
<polygon points="791.8,561.7 803.7,561.7 816.3,580 821,652.7 821,683 817.8,753.6 807,769.4 794.6,771" fill="none" stroke="#6f5651" stroke-width="1.7" stroke-linejoin="miter" />
<line x1="796" y1="561.7" x2="799.4" y2="770.3" stroke="#6f5651" stroke-width="1.7" />
<line x1="803.7" y1="561.7" x2="807" y2="769.4" stroke="#6f5651" stroke-width="1.7" />
<rect x="123" y="1417.8" width="446" height="147.5" fill="none" stroke="#6f5651" stroke-width="1.7" />
<line x1="123" y1="1417.8" x2="569" y2="1565.3" stroke="#6f5651" stroke-width="1.7" />
<line x1="123" y1="1565.3" x2="569" y2="1417.8" stroke="#6f5651" stroke-width="1.7" />
<rect x="569" y="1460.8" width="172.70000000000005" height="104.5" fill="none" stroke="#6f5651" stroke-width="1.7" />
<g>
<rect x="890.8" y="476.7" width="486.9000000000001" height="222.8" fill="none" stroke="#6f5651" stroke-width="1.7" />
<line x1="903.2" y1="476.7" x2="903.2" y2="699.5" stroke="#6f5651" stroke-width="1.7" />
<path d="M962,509.8 H927 Q914.7,509.8 914.7,522 V643 Q914.7,655 927,655 H990" fill="none" stroke="#6f5651" stroke-width="1.7" />
<path d="M915.8,594.4 Q922,584 932,578" fill="none" stroke="#6f5651" stroke-width="1.7" />
<path d="M914.7,616 Q930,590 954,578" fill="none" stroke="#6f5651" stroke-width="1.7" />
<polyline points="962,611.7 962,488.2 1367,488.2 1367,687.6 998.8,687.6" fill="none" stroke="#6f5651" stroke-width="1.7" stroke-linejoin="miter" />
<line x1="974.3" y1="488.2" x2="974.3" y2="605" stroke="#6f5651" stroke-width="1.7" />
<rect x="979.3" y="494.7" width="380.20000000000005" height="187.50000000000006" fill="none" stroke="#6f5651" stroke-width="1.7" />
<line x1="1027" y1="494.7" x2="1027" y2="682.2" stroke="#6f5651" stroke-width="1.7" />
<line x1="1074.4" y1="494.7" x2="1074.4" y2="682.2" stroke="#6f5651" stroke-width="1.7" />
<line x1="1121.6" y1="494.7" x2="1121.6" y2="682.2" stroke="#6f5651" stroke-width="1.7" />
<line x1="1168.9" y1="494.7" x2="1168.9" y2="682.2" stroke="#6f5651" stroke-width="1.7" />
<line x1="1216.5" y1="494.7" x2="1216.5" y2="682.2" stroke="#6f5651" stroke-width="1.7" />
<line x1="1264.2" y1="494.7" x2="1264.2" y2="682.2" stroke="#6f5651" stroke-width="1.7" />
<line x1="1311.8" y1="494.7" x2="1311.8" y2="682.2" stroke="#6f5651" stroke-width="1.7" />
<line x1="979.3" y1="521.8" x2="1359.5" y2="521.8" stroke="#6f5651" stroke-width="1.7" />
<line x1="979.3" y1="548.4" x2="1359.5" y2="548.4" stroke="#6f5651" stroke-width="1.7" />
<line x1="979.3" y1="574.9" x2="1359.5" y2="574.9" stroke="#6f5651" stroke-width="1.7" />
<line x1="979.3" y1="602" x2="1359.5" y2="602" stroke="#6f5651" stroke-width="1.7" />
<line x1="979.3" y1="628" x2="1359.5" y2="628" stroke="#6f5651" stroke-width="1.7" />
<line x1="979.3" y1="654.6" x2="1359.5" y2="654.6" stroke="#6f5651" stroke-width="1.7" />
<polygon points="962,599.8 962,611.7 998.8,687.6 1029.5,655" fill="#fff" stroke="#6f5651" stroke-width="1.7" stroke-linejoin="miter" />
</g>
<g transform="matrix(1,0,0,-1,0,1742.3)">
<rect x="890.8" y="476.7" width="486.9000000000001" height="222.8" fill="none" stroke="#6f5651" stroke-width="1.7" />
<line x1="903.2" y1="476.7" x2="903.2" y2="699.5" stroke="#6f5651" stroke-width="1.7" />
<path d="M962,509.8 H927 Q914.7,509.8 914.7,522 V643 Q914.7,655 927,655 H990" fill="none" stroke="#6f5651" stroke-width="1.7" />
<path d="M915.8,594.4 Q922,584 932,578" fill="none" stroke="#6f5651" stroke-width="1.7" />
<path d="M914.7,616 Q930,590 954,578" fill="none" stroke="#6f5651" stroke-width="1.7" />
<polyline points="962,611.7 962,488.2 1367,488.2 1367,687.6 998.8,687.6" fill="none" stroke="#6f5651" stroke-width="1.7" stroke-linejoin="miter" />
<line x1="974.3" y1="488.2" x2="974.3" y2="605" stroke="#6f5651" stroke-width="1.7" />
<rect x="979.3" y="494.7" width="380.20000000000005" height="187.50000000000006" fill="none" stroke="#6f5651" stroke-width="1.7" />
<line x1="1027" y1="494.7" x2="1027" y2="682.2" stroke="#6f5651" stroke-width="1.7" />
<line x1="1074.4" y1="494.7" x2="1074.4" y2="682.2" stroke="#6f5651" stroke-width="1.7" />
<line x1="1121.6" y1="494.7" x2="1121.6" y2="682.2" stroke="#6f5651" stroke-width="1.7" />
<line x1="1168.9" y1="494.7" x2="1168.9" y2="682.2" stroke="#6f5651" stroke-width="1.7" />
<line x1="1216.5" y1="494.7" x2="1216.5" y2="682.2" stroke="#6f5651" stroke-width="1.7" />
<line x1="1264.2" y1="494.7" x2="1264.2" y2="682.2" stroke="#6f5651" stroke-width="1.7" />
<line x1="1311.8" y1="494.7" x2="1311.8" y2="682.2" stroke="#6f5651" stroke-width="1.7" />
<line x1="979.3" y1="521.8" x2="1359.5" y2="521.8" stroke="#6f5651" stroke-width="1.7" />
<line x1="979.3" y1="548.4" x2="1359.5" y2="548.4" stroke="#6f5651" stroke-width="1.7" />
<line x1="979.3" y1="574.9" x2="1359.5" y2="574.9" stroke="#6f5651" stroke-width="1.7" />
<line x1="979.3" y1="602" x2="1359.5" y2="602" stroke="#6f5651" stroke-width="1.7" />
<line x1="979.3" y1="628" x2="1359.5" y2="628" stroke="#6f5651" stroke-width="1.7" />
<line x1="979.3" y1="654.6" x2="1359.5" y2="654.6" stroke="#6f5651" stroke-width="1.7" />
<polygon points="962,599.8 962,611.7 998.8,687.6 1029.5,655" fill="#fff" stroke="#6f5651" stroke-width="1.7" stroke-linejoin="miter" />
</g>
<rect x="890.8" y="699.5" width="99.70000000000005" height="153.5" fill="none" stroke="#6f5651" stroke-width="1.7" />
<rect x="890.8" y="889" width="99.70000000000005" height="153.79999999999995" fill="none" stroke="#6f5651" stroke-width="1.7" />
<rect x="1708.7" y="506" width="136.20000000000005" height="271.5" fill="none" stroke="#6f5651" stroke-width="1.7" />
<polyline points="1760.4,520.5 1817.8,632.2 1763.5,746.5" fill="none" stroke="#6f5651" stroke-width="1.7" stroke-linejoin="miter" />
<polygon points="1799.7,528.8 1811.3,528.8 1823,545.6 1828.9,642.5 1825.5,718.8 1814.4,736.9 1802.3,736.9" fill="none" stroke="#6f5651" stroke-width="1.7" stroke-linejoin="miter" />
<line x1="1803.6" y1="528.8" x2="1806.7" y2="736.9" stroke="#6f5651" stroke-width="1.7" />
<line x1="1811.3" y1="528.8" x2="1814.4" y2="736.9" stroke="#6f5651" stroke-width="1.7" />
<polyline points="1708.7,622.4 1634.7,629.6 1634.7,704 1708.7,711" fill="none" stroke="#6f5651" stroke-width="1.7" stroke-linejoin="miter" />
<line x1="1659.3" y1="627.2" x2="1659.3" y2="706.4" stroke="#6f5651" stroke-width="1.7" />
<line x1="1671.7" y1="626" x2="1671.7" y2="707.5" stroke="#6f5651" stroke-width="1.7" />
<rect x="1757.8" y="777.5" width="124.20000000000005" height="148.20000000000005" fill="none" stroke="#6f5651" stroke-width="1.7" />
<rect x="1745.7" y="925.7" width="136.0999999999999" height="347.29999999999995" fill="none" stroke="#6f5651" stroke-width="1.7" />
<line x1="1745.7" y1="925.7" x2="1881.8" y2="1273" stroke="#6f5651" stroke-width="1.7" />
<line x1="1881.8" y1="925.7" x2="1745.7" y2="1273" stroke="#6f5651" stroke-width="1.7" />
<polyline points="2244,510.2 2293.5,510.2 2293.5,461" fill="none" stroke="#000" stroke-width="2.6" stroke-linejoin="miter" />
<polyline points="2244,522 2305.8,522 2305.8,461" fill="none" stroke="#000" stroke-width="2.6" stroke-linejoin="miter" />
<rect x="2322.8" y="466.2" width="120.6" height="69.5" rx="9" ry="9" fill="none" stroke="#000" stroke-width="2.2" stroke-dasharray="17,10"/>
<polyline points="2425,476.5 2387,515.3 2390.2,480.5 2355,515.5" fill="none" stroke="#000" stroke-width="2.6" stroke-linejoin="miter" />
<polygon points="2352,501 2352,518.8 2370.8,518.8" fill="none" stroke="#000" stroke-width="2.6" stroke-linejoin="miter" />
<path d="M2430,464.2 H2533.6 V508 C2533.6,528 2505,538.5 2482,538.5 C2455,538.5 2430,526 2430,505 Z" fill="none" stroke="#000" stroke-width="2.6" />
<path d="M2438.6,507 C2440,490 2462,485 2482,485 C2505,485 2525,492 2525.4,507 C2525,522 2505,530 2482,530 C2460,530 2439,522 2438.6,507 Z" fill="none" stroke="#000" stroke-width="2.6" />
<circle cx="2464.6" cy="478.4" r="4.2" fill="none" stroke="#000" stroke-width="2.6" />
<circle cx="2499.3" cy="478.4" r="4.2" fill="none" stroke="#000" stroke-width="2.6" />
<ellipse cx="2482" cy="500" rx="9" ry="7.3" fill="none" stroke="#000" stroke-width="2.6" />
<line x1="2482" y1="449" x2="2482" y2="470" stroke="#000" stroke-width="2.6" />
<line x1="2482" y1="489" x2="2482" y2="513" stroke="#000" stroke-width="2.6" />
<line x1="2482" y1="523" x2="2482" y2="530" stroke="#000" stroke-width="2.6" />
<rect x="2249.2" y="559.2" width="44.30000000000018" height="110.39999999999998" fill="none" stroke="#000" stroke-width="2.6" />
<polyline points="2247.5,559.2 2247.5,671.6 2293.5,671.6" fill="none" stroke="#000" stroke-width="1.5" stroke-linejoin="miter" />
<path d="M2293.5,570.5 H2350 C2395,570.5 2414.7,595 2414.7,614.4 C2414.7,636 2395,658.4 2350,658.4 H2293.5" fill="none" stroke="#000" stroke-width="2.6" />
<ellipse cx="2358.5" cy="614" rx="43" ry="34" fill="none" stroke="#000" stroke-width="2.6" />
<line x1="2240" y1="614" x2="2436" y2="614" stroke="#000" stroke-width="2.6" stroke-dasharray="42,20"/>
<polyline points="2244,673.7 2355.5,673.7 2355.5,732" fill="none" stroke="#000" stroke-width="1.6" stroke-linejoin="miter" />
<circle cx="2109.4" cy="593.1" r="17.3" fill="none" stroke="#000" stroke-width="1.5" />
<circle cx="2109.4" cy="593.1" r="14.9" fill="none" stroke="#000" stroke-width="1.5" />
<line x1="2095.149446115044" y1="597.4510589483442" x2="2113.7510589483445" y2="578.8494461150441" stroke="#000" stroke-width="1.6" />
<line x1="2098.8641089603207" y1="603.6358910396796" x2="2119.9358910396795" y2="582.5641089603205" stroke="#000" stroke-width="1.6" />
<line x1="2105.0489410516557" y1="607.350553884956" x2="2123.650553884956" y2="588.7489410516558" stroke="#000" stroke-width="1.6" />
<circle cx="2142.3" cy="581.3" r="8.8" fill="none" stroke="#000" stroke-width="2.3" />
<line x1="2151.5" y1="581.8" x2="2213.2" y2="581.8" stroke="#000" stroke-width="2.6" />
<circle cx="2178" cy="544.2" r="5" fill="none" stroke="#000" stroke-width="2" />
<circle cx="2178" cy="619.3" r="5" fill="none" stroke="#000" stroke-width="2" />
<line x1="2183.4" y1="544.2" x2="2213.2" y2="544.2" stroke="#000" stroke-width="2.6" />
<line x1="2183.4" y1="619.3" x2="2213.2" y2="619.3" stroke="#000" stroke-width="2.6" />
<line x1="2189.5" y1="545.6" x2="2189.5" y2="618" stroke="#000" stroke-width="2.6" />
<line x1="2201.6" y1="545.6" x2="2201.6" y2="618" stroke="#000" stroke-width="2.6" />
<circle cx="2270" cy="709.6" r="10.7" fill="none" stroke="#000" stroke-width="1.5" />
<circle cx="2270" cy="709.6" r="5.3" fill="none" stroke="#000" stroke-width="1.5" />
<circle cx="2269.4" cy="730.3" r="4.3" fill="none" stroke="#000" stroke-width="1.8" />
<circle cx="2319.5" cy="763" r="15" fill="none" stroke="#000" stroke-width="1.8" />
<rect x="2287.6" y="807.5" width="44.5" height="111.39999999999998" fill="none" stroke="#000" stroke-width="2.6" />
<path d="M2287.6,818.5 H2231.2 C2185,818.5 2167,842 2167,862.5 C2167,885 2185,908 2231.2,908 H2287.6" fill="none" stroke="#000" stroke-width="2.6" />
<path d="M2177.5,863.2 C2177.5,842 2200,829.5 2230,829.5 C2255,829.5 2265.5,845 2265.5,863.2 C2265.5,882 2255,897 2230,897 C2200,897 2177.5,884 2177.5,863.2 Z" fill="none" stroke="#000" stroke-width="2.6" />
<line x1="2150" y1="862.5" x2="2355" y2="862.5" stroke="#000" stroke-width="2.6" stroke-dasharray="50,20"/>
<circle cx="2247.7" cy="939.6" r="17" fill="none" stroke="#000" stroke-width="1.5" />
<circle cx="2247.7" cy="939.6" r="13.8" fill="none" stroke="#000" stroke-width="1.5" />
<line x1="2234.340734115043" y1="943.0597709483457" x2="2251.1597709483453" y2="926.2407341150426" stroke="#000" stroke-width="1.6" />
<line x1="2237.9419264196254" y1="949.3580735803744" x2="2257.4580735803743" y2="929.8419264196257" stroke="#000" stroke-width="1.6" />
<line x1="2244.2402290516543" y1="952.9592658849574" x2="2261.059265884957" y2="936.1402290516544" stroke="#000" stroke-width="1.6" />
<path d="M2275.2,950.6 H2333.8 V1084 H2275.2 C2250,1084 2233.9,1050 2233.9,1017.3 C2233.9,985 2250,950.6 2275.2,950.6 Z" fill="none" stroke="#000" stroke-width="2.6" />
<path d="M2273.8,961.6 C2292,968 2304,990 2304,1017 C2304,1045 2292,1066 2273.8,1073 C2256,1066 2244.9,1045 2244.9,1017 C2244.9,990 2256,968 2273.8,961.6 Z" fill="none" stroke="#000" stroke-width="2.6" />
<ellipse cx="2284.2" cy="1017.1" rx="10.2" ry="11.6" fill="none" stroke="#000" stroke-width="2.6" />
<circle cx="2314.2" cy="994.6" r="6" fill="none" stroke="#000" stroke-width="2.6" />
<circle cx="2314.2" cy="1038.6" r="6" fill="none" stroke="#000" stroke-width="2.6" />
<line x1="2203.6" y1="1017.1" x2="2355" y2="1017.1" stroke="#000" stroke-width="2.6" stroke-dasharray="40,12"/>
<rect x="2203" y="1121.5" width="124" height="148.0" fill="none" stroke="#6f5651" stroke-width="1.7" />
<circle cx="2265.7" cy="1195.3" r="44.6" fill="none" stroke="#6f5651" stroke-width="1.7" />
<rect x="2185" y="1149.4" width="9" height="95.09999999999991" fill="none" stroke="#6f5651" stroke-width="1.7" />
<rect x="2719" y="193.8" width="99.59999999999991" height="62.0" fill="none" stroke="#000" stroke-width="2.6" />
<rect x="2729.3" y="203.7" width="41.899999999999636" height="41.900000000000006" fill="none" stroke="#000" stroke-width="2.6" />
<line x1="2729.3" y1="245.6" x2="2771.2" y2="203.7" stroke="#000" stroke-width="2.6" />
<rect x="2781" y="203.7" width="27.40000000000009" height="41.900000000000006" fill="none" stroke="#000" stroke-width="2.6" />
<line x1="2808.4" y1="215" x2="2818.6" y2="215" stroke="#000" stroke-width="2.6" />
<line x1="2808.4" y1="234.6" x2="2818.6" y2="234.6" stroke="#000" stroke-width="2.6" />
<circle cx="2740.5" cy="288.6" r="14.6" fill="none" stroke="#000" stroke-width="2.6" />
<circle cx="2948.6" cy="244.6" r="28.9" fill="none" stroke="#6f5651" stroke-width="1.7" />
<circle cx="2948.6" cy="305.4" r="22.3" fill="none" stroke="#6f5651" stroke-width="1.7" />
<line x1="3029" y1="193.8" x2="3029" y2="344.5" stroke="#6f5651" stroke-width="1.7" />
<polyline points="2880.5,554 2880.5,345 3190,345" fill="none" stroke="#6f5651" stroke-width="1.7" stroke-linejoin="miter" />
<rect x="3190.1" y="194.5" width="149.0" height="122.80000000000001" fill="none" stroke="#6f5651" stroke-width="1.7" />
<line x1="3214.7" y1="231" x2="3253" y2="231" stroke="#6f5651" stroke-width="1.7" />
<line x1="3224" y1="214.3" x2="3243.5" y2="247.6" stroke="#6f5651" stroke-width="1.7" />
<line x1="3243.5" y1="214.3" x2="3224" y2="247.6" stroke="#6f5651" stroke-width="1.7" />
<rect x="3190" y="329.5" width="149" height="13.199999999999989" fill="none" stroke="#6f5651" stroke-width="1.7" />
<rect x="3202.5" y="342.7" width="13.0" height="11.800000000000011" fill="none" stroke="#6f5651" stroke-width="1.7" />
<line x1="2744" y1="358.3" x2="2744" y2="419" stroke="#6f5651" stroke-width="1.7" />
<line x1="2768.8" y1="352" x2="2768.8" y2="419" stroke="#6f5651" stroke-width="1.7" />
<line x1="2794" y1="352" x2="2794" y2="419" stroke="#6f5651" stroke-width="1.7" />
<line x1="2818.3" y1="352" x2="2818.3" y2="419" stroke="#6f5651" stroke-width="1.7" />
<line x1="2843.5" y1="358.3" x2="2843.5" y2="419" stroke="#6f5651" stroke-width="1.7" />
<rect x="2744" y="443.1" width="99.5" height="99.7" rx="23" ry="23" fill="none" stroke="#6f5651" stroke-width="1.7"/>
<circle cx="2818.3" cy="467.9" r="12.5" fill="none" stroke="#6f5651" stroke-width="1.7" />
<line x1="2722" y1="554.7" x2="2876" y2="554.7" stroke="#6f5651" stroke-width="1.7" stroke-dasharray="16,11"/>
<rect x="2720.6" y="555.2" width="157.20000000000027" height="117.89999999999998" fill="none" stroke="#6f5651" stroke-width="1.7" />
<line x1="2867.7" y1="555.2" x2="2867.7" y2="673.1" stroke="#6f5651" stroke-width="1.7" />
<ellipse cx="2793.7" cy="613.8" rx="37.4" ry="29.9" fill="none" stroke="#000" stroke-width="2.6" />
<line x1="2767.3" y1="594.2" x2="2819.9" y2="635.3" stroke="#000" stroke-width="2.6" />
<rect x="2720.6" y="673.1" width="159.5" height="99.29999999999995" fill="none" stroke="#6f5651" stroke-width="1.7" />
<line x1="2720.6" y1="673.1" x2="2880.1" y2="772.4" stroke="#6f5651" stroke-width="1.7" />
<line x1="2880.1" y1="673.1" x2="2720.6" y2="772.4" stroke="#6f5651" stroke-width="1.7" />
<line x1="2880.5" y1="554" x2="2880.5" y2="673.1" stroke="#6f5651" stroke-width="1.7" />
<rect x="3494.1" y="233" width="173.70000000000027" height="346.4" fill="none" stroke="#6f5651" stroke-width="1.7" />
<path d="M3494.1,264.6 H3464 C3452,264.6 3444.5,285 3444.5,314.3 C3444.5,343 3452,363.9 3464,363.9 H3494.1" fill="none" stroke="#6f5651" stroke-width="1.7" />
<path d="M3432.5,260.8 A90.3,90.3 0 0 0 3432.5,367.1 Q3439,377 3444.5,363.3 A91,91 0 0 1 3444.5,264.1 Q3439,251 3432.5,260.8 Z" fill="none" stroke="#6f5651" stroke-width="1.7" />
<g transform="matrix(-1,0,0,1,7161.9,0)">
<path d="M3494.1,264.6 H3464 C3452,264.6 3444.5,285 3444.5,314.3 C3444.5,343 3452,363.9 3464,363.9 H3494.1" fill="none" stroke="#6f5651" stroke-width="1.7" />
<path d="M3432.5,260.8 A90.3,90.3 0 0 0 3432.5,367.1 Q3439,377 3444.5,363.3 A91,91 0 0 1 3444.5,264.1 Q3439,251 3432.5,260.8 Z" fill="none" stroke="#6f5651" stroke-width="1.7" />
</g>
<path d="M3494.1,448.20000000000005 H3464 C3452,448.20000000000005 3444.5,468.6 3444.5,497.9 C3444.5,526.6 3452,547.5 3464,547.5 H3494.1" fill="none" stroke="#6f5651" stroke-width="1.7" />
<path d="M3432.5,444.4 A90.3,90.3 0 0 0 3432.5,550.7 Q3439,560.6 3444.5,546.9 A91,91 0 0 1 3444.5,447.70000000000005 Q3439,434.6 3432.5,444.4 Z" fill="none" stroke="#6f5651" stroke-width="1.7" />
<g transform="matrix(-1,0,0,1,7161.9,0)">
<path d="M3494.1,448.20000000000005 H3464 C3452,448.20000000000005 3444.5,468.6 3444.5,497.9 C3444.5,526.6 3452,547.5 3464,547.5 H3494.1" fill="none" stroke="#6f5651" stroke-width="1.7" />
<path d="M3432.5,444.4 A90.3,90.3 0 0 0 3432.5,550.7 Q3439,560.6 3444.5,546.9 A91,91 0 0 1 3444.5,447.70000000000005 Q3439,434.6 3432.5,444.4 Z" fill="none" stroke="#6f5651" stroke-width="1.7" />
</g>
<path d="M3851,240 C3845,225 3850,215.1 3862,215.1 H3999 Q4003.7,215.1 4003.7,222 V265 Q4003.7,272.7 3996,272.7 H3870 C3860,265 3852,250 3851,240 Z" fill="none" stroke="#6f5651" stroke-width="1.7" />
<path d="M4003.7,222 Q4003.7,215.1 4010,215.1 H4164 Q4170.8,215.1 4170.8,222 V265 Q4170.8,272.7 4163,272.7 H4011 Q4003.7,272.7 4003.7,265" fill="none" stroke="#6f5651" stroke-width="1.7" />
<path d="M4330,240 C4336,225 4331,215.1 4319,215.1 H4178 Q4170.8,215.1 4170.8,222 V265 Q4170.8,272.7 4178,272.7 H4311 C4321,265 4329,250 4330,240 Z" fill="none" stroke="#6f5651" stroke-width="1.7" />
<path d="M3906,215.1 Q3940,225 3957,259" fill="none" stroke="#6f5651" stroke-width="1.7" />
<path d="M3935,218 Q3950,225 3957,234" fill="none" stroke="#6f5651" stroke-width="1.7" />
<path d="M4029,263 Q4050,228 4085,217" fill="none" stroke="#6f5651" stroke-width="1.7" />
<path d="M4029,238 Q4050,220 4085,218" fill="none" stroke="#6f5651" stroke-width="1.7" />
<path d="M4108,234 Q4095,220 4070,217" fill="none" stroke="#6f5651" stroke-width="1.7" />
<path d="M4196,259 Q4210,230 4248,215.1" fill="none" stroke="#6f5651" stroke-width="1.7" />
<path d="M4196,234 Q4210,222 4236,216" fill="none" stroke="#6f5651" stroke-width="1.7" />
<path d="M3867.8,272.7 V401" fill="none" stroke="#6f5651" stroke-width="1.7" />
<path d="M4312.5,272.7 V401" fill="none" stroke="#6f5651" stroke-width="1.7" />
<line x1="4003.7" y1="278.5" x2="4003.7" y2="421" stroke="#6f5651" stroke-width="1.7" />
<path d="M3855,411 Q3865,427.1 3878,427.1 H3999 Q4003.7,427.1 4003.7,421 Q4003.7,427.1 4010,427.1 H4132 Q4136,427.1 4137,419 Q4138,427.1 4142,427.1 H4301 Q4315,427.1 4326,411" fill="none" stroke="#6f5651" stroke-width="1.7" />
<path d="M3851.3,248.4 C3835,290 3829,320 3829,355 C3829,395 3838,411 3855,411 C3867,413 3873,405 3871.5,390 C3870,370 3862,355 3860,340" fill="none" stroke="#6f5651" stroke-width="1.7" />
<path d="M4329.7,248.4 C4346,290 4352,320 4352,355 C4352,395 4343,411 4326,411 C4314,413 4308,405 4309.5,390 C4311,370 4319,355 4321,340" fill="none" stroke="#6f5651" stroke-width="1.7" />
<path d="M3844,293 Q3852,275 3851,268" fill="none" stroke="#6f5651" stroke-width="1.7" />
<path d="M4337,293 Q4329,275 4330,268" fill="none" stroke="#6f5651" stroke-width="1.7" />
<path d="M3859.5,339 Q3867,345 3870,352" fill="none" stroke="#6f5651" stroke-width="1.7" />
<path d="M4321.5,339 Q4314,345 4311,352" fill="none" stroke="#6f5651" stroke-width="1.7" />
<path d="M3856,411 Q3862,413 3876,415" fill="none" stroke="#6f5651" stroke-width="1.7" />
<path d="M4137.1,433 Q4137.1,427.5 4143,427.5 H4309 Q4315.1,427.5 4315.1,433 V566 Q4315.1,571.6 4309,571.6 H4143 Q4137.1,571.6 4137.1,566 Z" fill="none" stroke="#6f5651" stroke-width="1.7" />
<path d="M4137.1,577 Q4137.1,571.6 4143,571.6 H4309 Q4315.1,571.6 4315.1,577 V704 Q4315.1,720.3 4299,720.3 H4153 Q4137.1,720.3 4137.1,704 Z" fill="none" stroke="#6f5651" stroke-width="1.7" />
<path d="M4164,437.4 H4162 Q4149.6,437.4 4149.6,450.4 V547.2 Q4149.6,560.2 4162,560.2 H4164" fill="none" stroke="#6f5651" stroke-width="1.7" />
<path d="M4288,437.4 H4289 Q4301.8,437.4 4301.8,450.4 V547.2 Q4301.8,560.2 4289,560.2 H4288" fill="none" stroke="#6f5651" stroke-width="1.7" />
<path d="M4164,581.5 H4162 Q4149.6,581.5 4149.6,594.5 V695.3 Q4149.6,708.3 4162,708.3 H4164" fill="none" stroke="#6f5651" stroke-width="1.7" />
<path d="M4288,581.5 H4289 Q4301.8,581.5 4301.8,594.5 V695.3 Q4301.8,708.3 4289,708.3 H4288" fill="none" stroke="#6f5651" stroke-width="1.7" />
<rect x="3881.9" y="574.3" width="124.09999999999991" height="123.90000000000009" fill="none" stroke="#6f5651" stroke-width="1.7" />
<rect x="3528.7" y="959.6" width="686.6000000000004" height="89.10000000000002" fill="none" stroke="#6f5651" stroke-width="1.7" />
<line x1="3868.3" y1="959.6" x2="3868.3" y2="1048.7" stroke="#6f5651" stroke-width="1.7" />
<rect x="3893.6" y="994.7" width="267.7000000000003" height="17.199999999999932" fill="none" stroke="#6f5651" stroke-width="1.7" />
<line x1="3893.6" y1="999.9" x2="4161.3" y2="999.9" stroke="#6f5651" stroke-width="1.7" />
<polyline points="3893.6,1011.9 3916.5,1027.7 3982.6,1029.7 4005.6,1034 4049.3,1034 4071.7,1029.7 4138.3,1027.7 4161.3,1011.9" fill="none" stroke="#6f5651" stroke-width="1.7" stroke-linejoin="miter" />
<polyline points="3882,939.5 4027.2,1019.1 4172.2,939.5" fill="none" stroke="#6f5651" stroke-width="1.7" stroke-linejoin="miter" />
<rect x="2571.7" y="1132.6" width="80.0" height="395.10000000000014" fill="none" stroke="#6f5651" stroke-width="1.7" />
<line x1="2571.7" y1="1330" x2="2651.7" y2="1330" stroke="#6f5651" stroke-width="1.7" />
<line x1="2571.7" y1="1132.6" x2="2651.7" y2="1330" stroke="#6f5651" stroke-width="1.7" />
<line x1="2651.7" y1="1132.6" x2="2571.7" y2="1330" stroke="#6f5651" stroke-width="1.7" />
<line x1="2571.7" y1="1330" x2="2651.7" y2="1527.7" stroke="#6f5651" stroke-width="1.7" />
<line x1="2651.7" y1="1330" x2="2571.7" y2="1527.7" stroke="#6f5651" stroke-width="1.7" />
<line x1="2806" y1="1142.6" x2="2819" y2="1142.6" stroke="#000" stroke-width="2.5" />
<rect x="2021" y="1621" width="74.59999999999991" height="212" fill="none" stroke="#6f5651" stroke-width="1.7" />
<rect x="2021" y="1833" width="74.59999999999991" height="209" fill="none" stroke="#6f5651" stroke-width="1.7" />
<line x1="2021" y1="1833" x2="2095.6" y2="2042" stroke="#6f5651" stroke-width="1.7" />
<line x1="2095.6" y1="1833" x2="2021" y2="2042" stroke="#6f5651" stroke-width="1.7" />
<rect x="2021" y="2042" width="224.5999999999999" height="124.80000000000018" fill="none" stroke="#6f5651" stroke-width="1.7" />
<line x1="2021" y1="2042" x2="2245.6" y2="2166.8" stroke="#6f5651" stroke-width="1.7" />
<line x1="2245.6" y1="2042" x2="2021" y2="2166.8" stroke="#6f5651" stroke-width="1.7" />
</svg></body></html>
